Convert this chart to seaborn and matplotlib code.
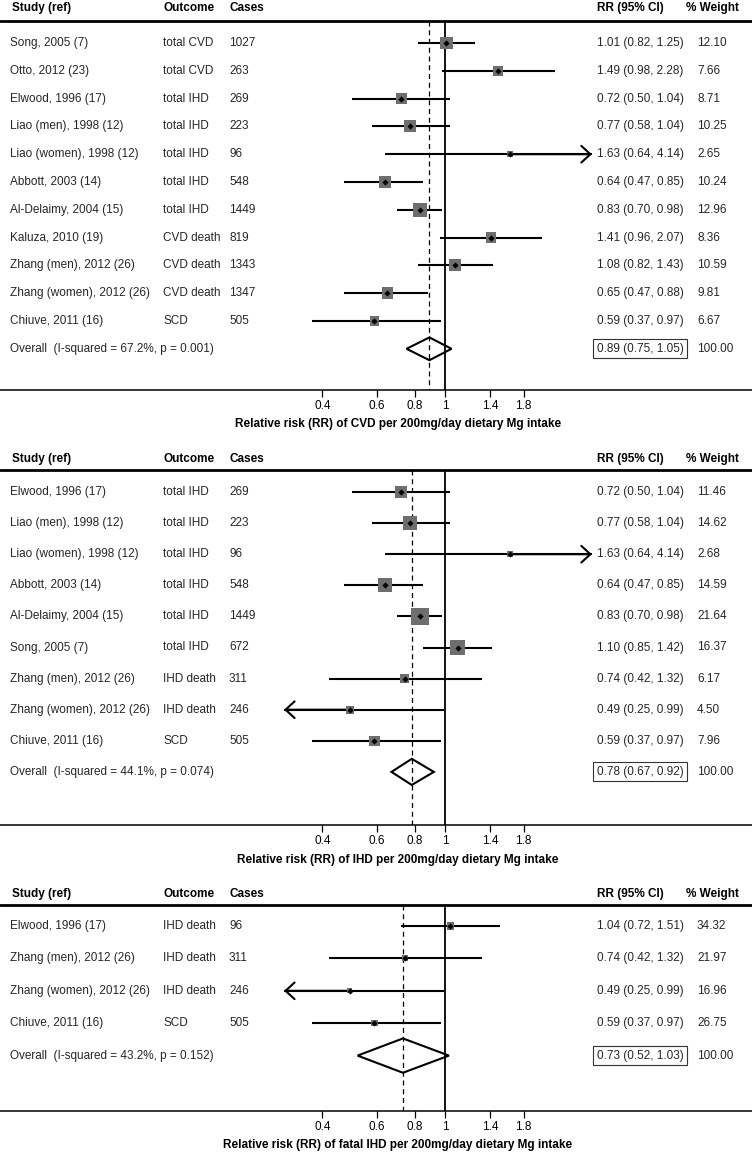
import numpy as np
import matplotlib
matplotlib.use("Agg")
import matplotlib.pyplot as plt
import matplotlib.transforms as mtransforms
from matplotlib.patches import Polygon
from matplotlib.ticker import NullLocator
import seaborn as sns

# ---------------- data ----------------
ticks = [0.4, 0.6, 0.8, 1, 1.4, 1.8]
tick_labels = ["0.4", "0.6", "0.8", "1", "1.4", "1.8"]
clip_range = (0.3, 3.0)

study1 = ["Song, 2005 (7)", "Otto, 2012 (23)", "Elwood, 1996 (17)", "Liao (men), 1998 (12)",
          "Liao (women), 1998 (12)", "Abbott, 2003 (14)", "Al-Delaimy, 2004 (15)",
          "Kaluza, 2010 (19)", "Zhang (men), 2012 (26)", "Zhang (women), 2012 (26)",
          "Chiuve, 2011 (16)"]
outcome1 = ["total CVD", "total CVD", "total IHD", "total IHD", "total IHD", "total IHD",
            "total IHD", "CVD death", "CVD death", "CVD death", "SCD"]
cases1 = [1027, 263, 269, 223, 96, 548, 1449, 819, 1343, 1347, 505]
rr1 = [1.01, 1.49, 0.72, 0.77, 1.63, 0.64, 0.83, 1.41, 1.08, 0.65, 0.59]
lo1 = [0.82, 0.98, 0.50, 0.58, 0.64, 0.47, 0.70, 0.96, 0.82, 0.47, 0.37]
hi1 = [1.25, 2.28, 1.04, 1.04, 4.14, 0.85, 0.98, 2.07, 1.43, 0.88, 0.97]
weight1 = [12.10, 7.66, 8.71, 10.25, 2.65, 10.24, 12.96, 8.36, 10.59, 9.81, 6.67]
overall1 = [0.89, 0.75, 1.05]
overall_weight1 = "100.00"
overall_label1 = "Overall  (I-squared = 67.2%, p = 0.001)"
xlabel1 = "Relative risk (RR) of CVD per 200mg/day dietary Mg intake"

study2 = ["Elwood, 1996 (17)", "Liao (men), 1998 (12)", "Liao (women), 1998 (12)",
          "Abbott, 2003 (14)", "Al-Delaimy, 2004 (15)", "Song, 2005 (7)",
          "Zhang (men), 2012 (26)", "Zhang (women), 2012 (26)", "Chiuve, 2011 (16)"]
outcome2 = ["total IHD", "total IHD", "total IHD", "total IHD", "total IHD", "total IHD",
            "IHD death", "IHD death", "SCD"]
cases2 = [269, 223, 96, 548, 1449, 672, 311, 246, 505]
rr2 = [0.72, 0.77, 1.63, 0.64, 0.83, 1.10, 0.74, 0.49, 0.59]
lo2 = [0.50, 0.58, 0.64, 0.47, 0.70, 0.85, 0.42, 0.25, 0.37]
hi2 = [1.04, 1.04, 4.14, 0.85, 0.98, 1.42, 1.32, 0.99, 0.97]
weight2 = [11.46, 14.62, 2.68, 14.59, 21.64, 16.37, 6.17, 4.50, 7.96]
overall2 = [0.78, 0.67, 0.92]
overall_weight2 = "100.00"
overall_label2 = "Overall  (I-squared = 44.1%, p = 0.074)"
xlabel2 = "Relative risk (RR) of IHD per 200mg/day dietary Mg intake"

study3 = ["Elwood, 1996 (17)", "Zhang (men), 2012 (26)", "Zhang (women), 2012 (26)",
          "Chiuve, 2011 (16)"]
outcome3 = ["IHD death", "IHD death", "IHD death", "SCD"]
cases3 = [96, 311, 246, 505]
rr3 = [1.04, 0.74, 0.49, 0.59]
lo3 = [0.72, 0.42, 0.25, 0.37]
hi3 = [1.51, 1.32, 0.99, 0.97]
weight3 = [34.32, 21.97, 16.96, 26.75]
overall3 = [0.73, 0.52, 1.03]
overall_weight3 = "100.00"
overall_label3 = "Overall  (I-squared = 43.2%, p = 0.152)"
xlabel3 = "Relative risk (RR) of fatal IHD per 200mg/day dietary Mg intake"

headers = ["Study (ref)", "Outcome", "Cases", "RR (95% CI)", "% Weight"]

# ---------------- style / layout ----------------
sns.set_theme(style="white")
plt.rcParams['font.family'] = ['Liberation Sans', 'DejaVu Sans']
FS = 8.5
W, H = 752, 1152
X1_PX = 445.0        # pixel of RR = 1
PX_PER_LN = 133.7
xmin = np.exp(-X1_PX / PX_PER_LN)
xmax = np.exp((W - X1_PX) / PX_PER_LN)
COL_STUDY, COL_OUT, COL_CASES, COL_RR, COL_WH, COL_W = 10, 163, 229, 597, 686, 697
SQ_GREY = "#6e6e6e"
LW_CI = 1.5

layout = [
    dict(top=0, bottom=390, row0=43, sp=27.8, hline=21, htext=8, xlab=424, sq=7.2, dia=0.41),
    dict(top=440, bottom=825, row0=492, sp=31.1, hline=470, htext=459, xlab=860, sq=7.2, dia=0.42),
    dict(top=870, bottom=1111, row0=926, sp=32.4, hline=905, htext=894, xlab=1145, sq=0.8, dia=0.53),
]
panels = [
    (study1, outcome1, cases1, rr1, lo1, hi1, weight1, overall1, overall_weight1, overall_label1, xlabel1),
    (study2, outcome2, cases2, rr2, lo2, hi2, weight2, overall2, overall_weight2, overall_label2, xlabel2),
    (study3, outcome3, cases3, rr3, lo3, hi3, weight3, overall3, overall_weight3, overall_label3, xlabel3),
]

fig = plt.figure(figsize=(W / 100, H / 100), dpi=100)
fig.patch.set_facecolor("white")

for lay, (study, outcome, cases, rr, lo, hi, wt, ov, ovw, ovlab, xlab) in zip(layout, panels):
    top, bottom, row0, sp = lay["top"], lay["bottom"], lay["row0"], lay["sp"]
    ax = fig.add_axes([0, 1 - bottom / H, 1, (bottom - top) / H])
    ax.set_facecolor("white")
    ax.set_xscale("log")
    ax.set_xlim(xmin, xmax)
    ybot = (bottom - row0) / sp
    ytop = (top - row0) / sp
    ax.set_ylim(ybot, ytop)
    n = len(study)
    rows = np.arange(n)
    hy = (lay["hline"] - row0) / sp
    hty = (lay["htext"] - row0) / sp
    tr = mtransforms.blended_transform_factory(ax.transAxes, ax.transData)

    # header
    ax.axhline(hy, color="black", lw=2.0, zorder=2)
    for col, txt in zip([COL_STUDY + 2, COL_OUT, COL_CASES, COL_RR, COL_WH], headers):
        ax.text(col / W, hty, txt, transform=tr, ha="left", va="center",
                fontsize=FS, fontweight="bold", color="black")

    # reference lines
    ax.vlines(1, hy, ybot, color="black", lw=1.3, zorder=2)
    ax.vlines(ov[0], hy, ybot, color="black", lw=0.9, linestyles=(0, (4, 3)), zorder=2)

    # CIs
    lo_c = np.maximum(lo, clip_range[0])
    hi_c = np.minimum(hi, clip_range[1])
    ax.hlines(rows, lo_c, hi_c, color="black", lw=LW_CI, zorder=3)
    for i in range(n):
        for bound, lim, out in ((hi[i], clip_range[1], hi[i] > clip_range[1]),
                                (lo[i], clip_range[0], lo[i] < clip_range[0])):
            if out:
                ax.annotate("", xy=(lim, rows[i]), xytext=(rr[i], rows[i]),
                            arrowprops=dict(arrowstyle="->,head_length=0.65,head_width=0.6",
                                            lw=LW_CI, color="black", shrinkA=0, shrinkB=0,
                                            mutation_scale=10), zorder=3)

    # weighted squares and point estimates
    wmax = max(wt)
    sns.scatterplot(x=rr, y=rows, size=wt, sizes=(0, lay["sq"] * wmax), size_norm=(0, wmax),
                    marker="s", color=SQ_GREY, linewidth=0, legend=False, ax=ax, zorder=4)
    sns.scatterplot(x=rr, y=rows, marker="D", s=10, color="black", linewidth=0,
                    legend=False, ax=ax, zorder=5)

    # overall diamond
    h = lay["dia"]
    dia = Polygon([(ov[1], n), (ov[0], n - h), (ov[2], n), (ov[0], n + h)],
                  closed=True, fill=False, ec="black", lw=1.5, zorder=5)
    ax.add_patch(dia)

    # text columns
    for i in range(n):
        ax.text(COL_STUDY / W, rows[i], study[i], transform=tr, ha="left", va="center", fontsize=FS)
        ax.text(COL_OUT / W, rows[i], outcome[i], transform=tr, ha="left", va="center", fontsize=FS)
        ax.text(COL_CASES / W, rows[i], str(cases[i]), transform=tr, ha="left", va="center", fontsize=FS)
        ax.text(COL_RR / W, rows[i], f"{rr[i]:.2f} ({lo[i]:.2f}, {hi[i]:.2f})", transform=tr,
                ha="left", va="center", fontsize=FS)
        ax.text(COL_W / W, rows[i], f"{wt[i]:.2f}", transform=tr, ha="left", va="center", fontsize=FS)
    ax.text(COL_STUDY / W, n, ovlab, transform=tr, ha="left", va="center", fontsize=FS)
    ax.text(COL_RR / W, n, f"{ov[0]:.2f} ({ov[1]:.2f}, {ov[2]:.2f})", transform=tr,
            ha="left", va="center", fontsize=FS,
            bbox=dict(boxstyle="square,pad=0.3", fc="white", ec="#333333", lw=0.8))
    ax.text(COL_W / W, n, ovw, transform=tr, ha="left", va="center", fontsize=FS)

    # axis
    for s in ["top", "left", "right"]:
        ax.spines[s].set_visible(False)
    ax.spines["bottom"].set_visible(True)
    ax.spines["bottom"].set_color("black")
    ax.spines["bottom"].set_linewidth(1.1)
    ax.set_xticks(ticks)
    ax.set_xticklabels(tick_labels)
    ax.xaxis.set_minor_locator(NullLocator())
    ax.tick_params(axis="x", bottom=True, direction="out", length=5, width=0.9,
                   color="black", labelsize=FS, pad=2, labelcolor="black")
    ax.set_yticks([])
    ax.grid(False)

    fig.text(398 / W, 1 - lay["xlab"] / H, xlab, ha="center", va="center",
             fontsize=FS, fontweight="bold", color="black")

fig.savefig("out.png", dpi=100, facecolor="white")
